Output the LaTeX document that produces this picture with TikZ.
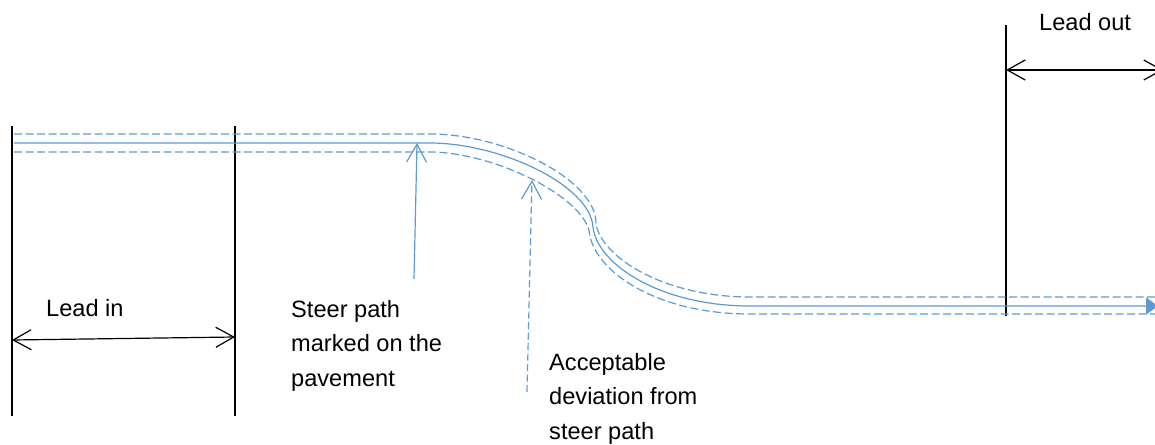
\documentclass[tikz,border=0pt]{standalone}
\usepackage{fontspec}
\setmainfont{Liberation Sans}
\usetikzlibrary{arrows.meta}
\definecolor{pathblue}{HTML}{5B9BD5}
\begin{document}
\begin{tikzpicture}[x=1pt,y=-1pt,
  blueline/.style={draw=pathblue, line width=1.2pt},
  tolerance/.style={blueline, dash pattern=on 8pt off 3.5pt},
  dimline/.style={draw=black, line width=1.2pt},
  openbarb/.tip={Straight Barb[length=18pt,width=20pt]},
  lbl/.style={font=\fontsize{23.6}{34.5}\selectfont, inner sep=0pt, align=left}]

\clip (0,0) rectangle (1155,444);

% section boundaries
\coordinate (inA) at (12,126);   \coordinate (inAb) at (12,416);
\coordinate (inB) at (235,126);  \coordinate (inBb) at (235,416);
\coordinate (outA) at (1006,25); \coordinate (outAb) at (1006,316);
\draw[dimline] (inA) -- (inAb);
\draw[dimline] (inB) -- (inBb);
\draw[dimline] (outA) -- (outAb);

% dimension arrows
\coordinate (inL) at (12,340);  \coordinate (inR) at (235,337);
\coordinate (outL) at (1006,70); \coordinate (outR) at (1163,70);
\draw[dimline, {openbarb}-{openbarb}] (inL) -- (inR);
\draw[dimline, {openbarb}-{openbarb}] (outL) -- (outR);

% steer path and tolerance band
\coordinate (sStart) at (14,143);  \coordinate (sEnd) at (1158,306);
\coordinate (uStart) at (14,134);  \coordinate (uEnd) at (1155,297);
\coordinate (lStart) at (14,152);  \coordinate (lEnd) at (1155,314);

\draw[tolerance] (uStart) -- (430,134)
  .. controls (505,134) and (597,180) .. (596,224)
  .. controls (602,258) and (665,297) .. (750,297) -- (uEnd);
\draw[tolerance] (lStart) -- (430,152)
  .. controls (490,152) and (578,193) .. (589,230)
  .. controls (592,270) and (655,314) .. (750,314) -- (lEnd);
\draw[blueline, -{Triangle[length=12pt,width=17pt]}] (sStart) -- (430,143)
  .. controls (500,143) and (590,185) .. (593,227)
  .. controls (597,264) and (660,306) .. (750,306) -- (sEnd);

% pointers
\coordinate (steerTip) at (417,143);  \coordinate (steerFoot) at (414,279);
\coordinate (devTip) at (532,180);    \coordinate (devFoot) at (527,392);
\draw[blueline, -{openbarb}] (steerFoot) -- (steerTip);
\draw[blueline, dash pattern=on 7pt off 3.5pt, -{openbarb}] (devFoot) -- (devTip);

% labels
\node[lbl, anchor=base west] (leadin) at (46,316) {Lead in};
\node[lbl, anchor=base west] (leadout) at (1039,31) {Lead out};
\node[lbl, anchor=north west] (steerlbl) at (291,300) {Steer path\\marked on the\\pavement};
\node[lbl, anchor=north west] (devlbl) at (549,352.8) {Acceptable\\deviation from\\steer path};
\end{tikzpicture}
\end{document}
